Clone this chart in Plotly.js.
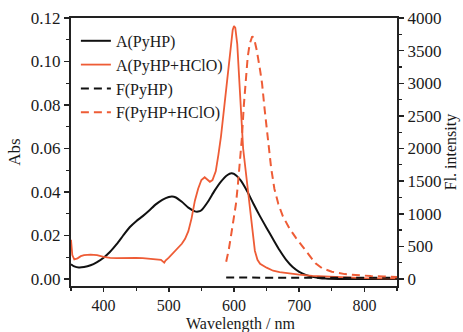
<!DOCTYPE html>
<html>
<head>
<meta charset="utf-8">
<script src="https://cdn.plot.ly/plotly-3.0.1.min.js"></script>
<style>html,body{margin:0;padding:0;background:#fff;}#chart{width:463px;height:332px;}</style>
</head>
<body>
<div id="chart"></div>
<script>
// A(PyHP) absorption
const wlA1 = [350,355,362,370,380,390,400,410,420,430,440,450,460,470,480,490,500,505,510,520,530,540,545,550,560,570,580,590,596,600,610,620,630,640,650,660,670,680,690,700,710,720,730,740,760,800,850];
const absA1 = [0.0068,0.0058,0.0053,0.0055,0.0063,0.0078,0.0098,0.0125,0.0160,0.0200,0.0238,0.0266,0.0289,0.0315,0.0343,0.0364,0.0377,0.0379,0.0376,0.0355,0.0328,0.0311,0.0310,0.0316,0.0355,0.0405,0.0448,0.0478,0.0486,0.0483,0.0455,0.0405,0.0345,0.0288,0.0235,0.0183,0.0132,0.0088,0.0055,0.0033,0.0019,0.0010,0.0005,0.0002,0.0,0.0,0.0];

// A(PyHP+HClO) absorption
const wlA2 = [350,352,355,360,365,370,380,390,400,410,420,430,440,450,460,470,480,488,493,495,500,505,510,515,520,525,530,535,540,545,550,555,560,563,567,572,576,580,585,590,594,598,600,602,605,608,611,614,617,620,623,626,629,632,636,640,650,660,670,680,700,720,750,780,800,830,850];
const absA2 = [0.0180,0.0110,0.0090,0.0095,0.0105,0.0110,0.0112,0.0110,0.0102,0.0097,0.0096,0.0097,0.0095,0.0097,0.0096,0.0094,0.0092,0.0088,0.0075,0.0085,0.0098,0.0115,0.0130,0.0148,0.0162,0.0185,0.0220,0.0280,0.0360,0.0415,0.0455,0.0468,0.0452,0.0447,0.0455,0.0495,0.0570,0.0655,0.0790,0.0930,0.1060,0.1145,0.1163,0.1155,0.1080,0.0940,0.0760,0.0600,0.0520,0.0440,0.0360,0.0270,0.0190,0.0130,0.0088,0.0070,0.0052,0.0038,0.0032,0.0027,0.0020,0.0014,0.0010,0.0006,0.0004,0.0003,0.0003];

// F(PyHP) fluorescence
const wlF1 = [588,620,650,700,750,800,850];
const flF1 = [22,22,20,20,18,18,18];

// F(PyHP+HClO) fluorescence
const wlF2 = [588,592,596,600,603,606,609,612,615,618,621,624,628,631,635,640,643,647,652,657,662,668,675,685,695,705,715,725,735,750,770,790,810,830,850];
const flF2 = [265,450,700,950,1150,1450,1800,2150,2650,3100,3400,3600,3720,3680,3500,3200,3000,2600,2100,1700,1380,1150,960,777,630,495,360,240,165,112,75,55,45,40,30];

const names = ['A(PyHP)','A(PyHP+HClO)','F(PyHP)','F(PyHP+HClO)'];
const xTicks = [400,500,600,700,800];
const yTicks = [0.00,0.02,0.04,0.06,0.08,0.10,0.12];
const y2Ticks = [0,500,1000,1500,2000,2500,3000,3500,4000];
const xTitle = 'Wavelength / nm';

const RED = '#EE5C36';
const FONT = 'Liberation Serif, Times New Roman, serif';
const TXT = '#1a1a1a';

const traces = [
  {x: wlA1, y: absA1, name: names[0], mode:'lines', line:{color:'#111', width:2, shape:'spline', smoothing:0.6}, yaxis:'y'},
  {x: wlA2, y: absA2, name: names[1], mode:'lines', line:{color:RED, width:1.8}, yaxis:'y'},
  {x: wlF1, y: flF1, name: names[2], mode:'lines', line:{color:'#111', width:2, dash:'8px,5px'}, yaxis:'y2'},
  {x: wlF2, y: flF2, name: names[3], mode:'lines', line:{color:RED, width:2, dash:'8px,5px'}, yaxis:'y2'}
];

const layout = {
  width: 463, height: 332,
  margin: {l:71, r:66, t:18, b:46},
  paper_bgcolor:'#fff', plot_bgcolor:'#fff',
  font: {family: FONT, size: 17, color:TXT},
  showlegend: true,
  legend: {x:0.015, y:0.978, xanchor:'left', yanchor:'top', bgcolor:'rgba(0,0,0,0)', font:{family:FONT, size:16, color:TXT}, tracegroupgap:0},
  xaxis: {
    range:[350,850], tickvals: xTicks, ticks:'outside', ticklen:4, tickwidth:1.5, tickcolor:'#222',
    showline:true, linewidth:2, linecolor:'#222', mirror:true, showgrid:false, zeroline:false,
    tickfont:{family:FONT, size:16, color:TXT},
    minor:{dtick:50, tick0:350, ticks:'outside', ticklen:3, tickwidth:1.2, tickcolor:'#222', showgrid:false}
  },
  yaxis: {
    range:[-0.00322, 0.12], tickvals: yTicks, tickformat:'.2f', ticks:'outside', ticklen:5, tickwidth:1.5, tickcolor:'#222',
    showline:true, linewidth:2, linecolor:'#222', showgrid:false, zeroline:false,
    tickfont:{family:FONT, size:17, color:TXT},
    minor:{dtick:0.01, tick0:0, ticks:'outside', ticklen:3, tickwidth:1.2, tickcolor:'#222', showgrid:false},
    title:{text:'Abs', font:{family:FONT, size:17, color:TXT}, standoff:6}
  },
  yaxis2: {
    overlaying:'y', side:'right', range:[-107, 4000], tickvals: y2Ticks, ticks:'outside', ticklen:5, tickwidth:1.5, tickcolor:'#222',
    showline:true, linewidth:2, linecolor:'#222', showgrid:false, zeroline:false,
    tickfont:{family:FONT, size:17, color:TXT},
    minor:{dtick:250, tick0:0, ticks:'outside', ticklen:3, tickwidth:1.2, tickcolor:'#222', showgrid:false},
    title:{text:'Fl. intensity', font:{family:FONT, size:16, color:TXT}, standoff:4}
  },
  annotations: [
    {text: xTitle, xref:'paper', yref:'paper', x:0.52, y:-0.142, xanchor:'center', yanchor:'middle', showarrow:false,
     borderpad:0, font:{family:FONT, size:16, color:TXT}}
  ]
};

Plotly.newPlot('chart', traces, layout, {staticPlot:true, displayModeBar:false});
</script>
</body>
</html>
